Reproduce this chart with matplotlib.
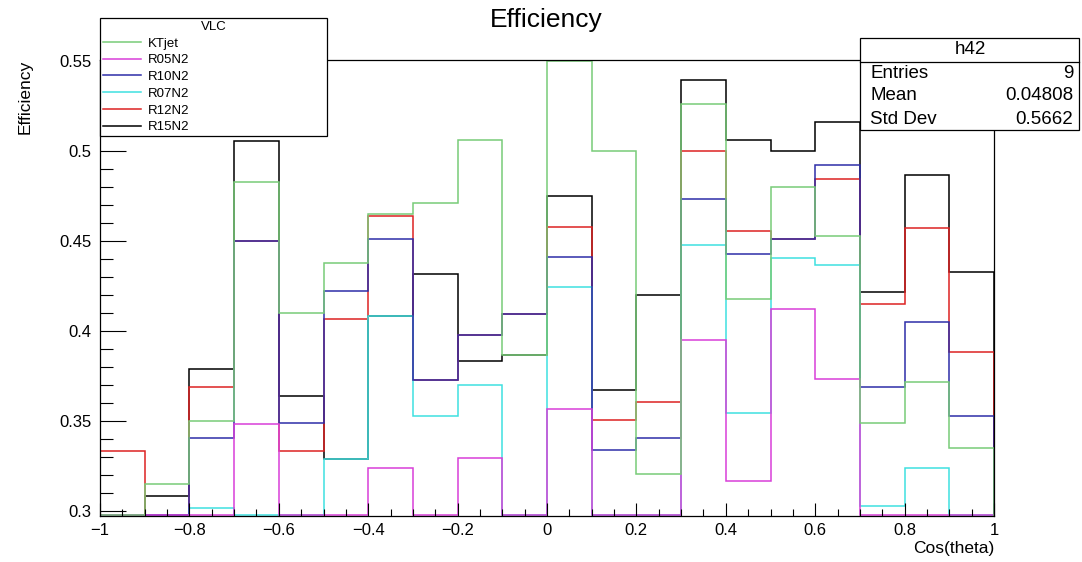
import numpy as np
import matplotlib.pyplot as plt
from matplotlib.patches import Rectangle
from matplotlib.lines import Line2D
from matplotlib.ticker import MultipleLocator, FuncFormatter

plt.rcParams["font.family"] = ["Liberation Sans", "DejaVu Sans"]

# 20 bins in cos(theta)
bin_edges = np.round(np.arange(-1.0, 1.001, 0.1), 2)

# efficiency per bin (values below 0.2975 / above 0.55 are out of the frame)
ktjet = [0.28, 0.315, 0.350, 0.483, 0.410, 0.438, 0.465, 0.471, 0.506, 0.387,
         0.556, 0.500, 0.321, 0.526, 0.418, 0.480, 0.453, 0.349, 0.372, 0.335]
r05n2 = [0.28, 0.28, 0.28, 0.3486, 0.28, 0.28, 0.3244, 0.28, 0.3297, 0.28,
         0.3568, 0.28, 0.28, 0.3953, 0.3169, 0.4123, 0.3736, 0.28, 0.28, 0.28]
r10n2 = [0.28, 0.28, 0.3407, 0.4499, 0.3493, 0.4223, 0.4514, 0.373, 0.3979, 0.4096,
         0.4412, 0.3342, 0.3407, 0.4735, 0.443, 0.4511, 0.4925, 0.369, 0.4053, 0.3532]
r07n2 = [0.28, 0.28, 0.302, 0.28, 0.28, 0.329, 0.4086, 0.3532, 0.370, 0.28,
         0.4244, 0.28, 0.28, 0.4479, 0.3546, 0.4408, 0.4369, 0.3032, 0.3244, 0.28]
r12n2 = [0.3338, 0.28, 0.3693, 0.4499, 0.3338, 0.4068, 0.464, 0.373, 0.3979, 0.4096,
         0.458, 0.3508, 0.361, 0.4999, 0.4558, 0.4511, 0.4845, 0.4151, 0.4573, 0.3888]
r15n2 = [0.28, 0.3088, 0.379, 0.5058, 0.3642, 0.329, 0.4086, 0.4316, 0.3838, 0.387,
         0.4749, 0.3675, 0.4203, 0.5397, 0.5064, 0.4999, 0.516, 0.4216, 0.4869, 0.4329]

names = ["KTjet", "R05N2", "R10N2", "R07N2", "R12N2", "R15N2"]
series = [ktjet, r05n2, r10n2, r07n2, r12n2, r15n2]
colors = ["#78cc78", "#d83fd8", "#2e2ea8", "#3fe0e0", "#dd2222", "#000000"]

stats_labels = ["Entries", "Mean", "Std Dev"]
stats_values = ["9", "0.04808", "0.5662"]

W, H = 1082, 562
y_lo, y_hi = 0.2975, 0.5506


def fx(px):
    return px / W


def fy(py):
    return 1 - py / H


fig = plt.figure(figsize=(W / 100, H / 100), dpi=100)
ax = fig.add_axes([fx(100), fy(516), (994 - 100) / W, (516 - 60) / H])

# ROOT draws the last histogram on top: draw in reverse legend order
for name, vals, col in reversed(list(zip(names, series, colors))):
    ax.stairs(np.clip(vals, y_lo + 0.0004, y_hi - 0.0004), bin_edges,
              baseline=y_lo, color=col, lw=1.1)

ax.set_xlim(-1, 1)
ax.set_ylim(y_lo, y_hi)
for s in ax.spines.values():
    s.set_linewidth(0.9)

ax.xaxis.set_major_locator(MultipleLocator(0.2))
ax.xaxis.set_minor_locator(MultipleLocator(0.05))
ax.yaxis.set_major_locator(MultipleLocator(0.05))
ax.yaxis.set_minor_locator(MultipleLocator(0.01))
fmt = FuncFormatter(lambda v, p: f"{v:g}".replace("-", "\u2212") if abs(v) > 1e-9 else "0")
ax.xaxis.set_major_formatter(fmt)
ax.yaxis.set_major_formatter(fmt)
ax.tick_params(axis="x", which="major", direction="in", length=9.4, width=0.8,
               labelsize=12, pad=5)
ax.tick_params(axis="x", which="minor", direction="in", length=4.7, width=0.8)
ax.tick_params(axis="y", which="major", direction="in", length=18.7, width=0.8,
               labelsize=12, pad=6)
ax.tick_params(axis="y", which="minor", direction="in", length=9.4, width=0.8)

fig.text(fx(546), fy(20), "Efficiency", fontsize=19, ha="center", va="center")
fig.text(fx(25), fy(60), "Efficiency", fontsize=12.5, rotation=90,
         ha="center", va="top")
fig.text(fx(994), fy(548), "Cos(theta)", fontsize=12.5, ha="right", va="center")

# legend
handles = [Line2D([], [], color=c, lw=1.1) for c in colors]
leg = fig.legend(handles, names, title="VLC", loc="upper left",
                 bbox_to_anchor=(fx(100), fy(134), (327 - 100) / W, (134 - 18) / H),
                 mode="expand", borderaxespad=0, fancybox=False,
                 edgecolor="black", framealpha=1, fontsize=9.5,
                 title_fontsize=9.5, handlelength=2.9, handletextpad=0.5,
                 labelspacing=0.34, borderpad=0.22)
leg.get_frame().set_linewidth(0.9)

# stats box
fig.add_artist(Rectangle((fx(860), fy(130)), (1079 - 860) / W, (130 - 38) / H,
                         transform=fig.transFigure, facecolor="white",
                         edgecolor="black", lw=0.9, zorder=5))
fig.add_artist(Line2D([fx(860), fx(1079)], [fy(62), fy(62)],
                      transform=fig.transFigure, color="black", lw=0.9, zorder=6))
fig.text(fx(970), fy(50), "h42", fontsize=13.5, ha="center", va="center", zorder=7)
for i, (lab, val) in enumerate(zip(stats_labels, stats_values)):
    yy = fy(73 + 23 * i)
    fig.text(fx(870), yy, lab, fontsize=13.5, ha="left", va="center", zorder=7)
    fig.text(fx(1073), yy, val, fontsize=13.5, ha="right", va="center", zorder=7)

fig.savefig("out.png", dpi=100)
